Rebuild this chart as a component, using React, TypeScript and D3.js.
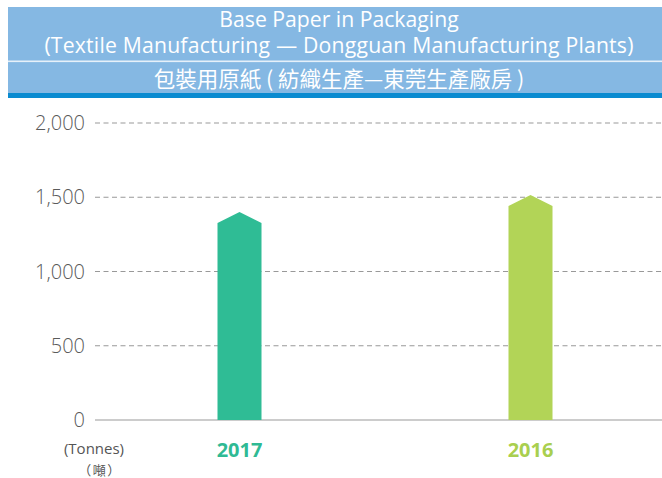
import React from "react";
import * as d3 from "d3";

const categories = ["2017", "2016"];
const values = [1327, 1441];
const barColors = ["#2fbc95", "#b2d457"];
const labelColors = ["#2fba94", "#a9cf4f"];
const yTicks = [0, 500, 1000, 1500, 2000];
const titleLines = [
  "Base Paper in Packaging",
  "(Textile Manufacturing \u2014 Dongguan Manufacturing Plants)",
];
const titleZh = "包裝用原紙 ( 紡織生產—東莞生產廠房 )";
const unitEn = "(Tonnes)";
const unitZh = "（噸）";

const W = 662;
const H = 478;

export default function App() {
  const y = d3.scaleLinear().domain([0, 2000]).range([420, 123]);
  const x = d3.scalePoint<string>().domain(categories).range([94, 676]).padding(0.5);
  const bw = 44;
  const cap = 11;
  const fmt = d3.format(",");
  const latin = "'Open Sans', 'Noto Sans', sans-serif";
  const cjk = "'Noto Sans CJK TC', 'Noto Sans', sans-serif";

  return (
    <svg width={W} height={H} style={{ position: "absolute", left: 0, top: 0 }}>
      <rect x={0} y={0} width={W} height={H} fill="#fff" />
      {/* header */}
      <rect x={8} y={7} width={W - 8} height={86} fill="#85b8e3" />
      <rect x={8} y={60.5} width={W - 8} height={1.6} fill="#e6f0f9" />
      <rect x={8} y={93} width={W - 8} height={5} fill="#0a8bd0" />
      <text x={339} y={27} textAnchor="middle" fill="#fff" fontFamily={latin} fontSize={21.2}>
        {titleLines[0]}
      </text>
      <text x={339} y={53} textAnchor="middle" fill="#fff" fontFamily={latin} fontSize={21.2} letterSpacing={0.2}>
        {titleLines[1]}
      </text>
      <text x={339} y={87} textAnchor="middle" fill="#fff" fontFamily={cjk} fontSize={21.5}>
        {titleZh}
      </text>

      {/* grid */}
      {yTicks.map((t) => (
        <g key={t}>
          <line
            x1={95}
            x2={W}
            y1={y(t)}
            y2={y(t)}
            stroke="#999"
            strokeWidth={1.2}
            strokeDasharray={t === 0 ? undefined : "5,3.5"}
          />
          <text
            x={85}
            y={y(t)}
            dy="0.35em"
            textAnchor="end"
            fill="#5a5a5a"
            fontFamily={latin}
            fontWeight={300}
            fontSize={20}
          >
            {fmt(t)}
          </text>
        </g>
      ))}

      {/* bars */}
      {categories.map((c, i) => {
        const cx = x(c) as number;
        const x0 = cx - bw / 2;
        const x1 = cx + bw / 2;
        const top = y(values[i]);
        const base = y(0);
        const d = `M${x0},${base}L${x0},${top}L${cx},${top - cap}L${x1},${top}L${x1},${base}Z`;
        return <path key={c} d={d} fill={barColors[i]} />;
      })}

      {/* category labels */}
      {categories.map((c, i) => (
        <text
          key={c}
          x={x(c) as number}
          y={457}
          textAnchor="middle"
          fill={labelColors[i]}
          fontFamily={latin}
          fontWeight={700}
          fontSize={20}
        >
          {c}
        </text>
      ))}

      <text x={94} y={454} textAnchor="middle" fill="#555" fontFamily={latin} fontSize={15}>
        {unitEn}
      </text>
      <text x={100} y={475} textAnchor="middle" fill="#555" fontFamily={cjk} fontSize={13} letterSpacing={1.5}>
        {unitZh}
      </text>
    </svg>
  );
}
